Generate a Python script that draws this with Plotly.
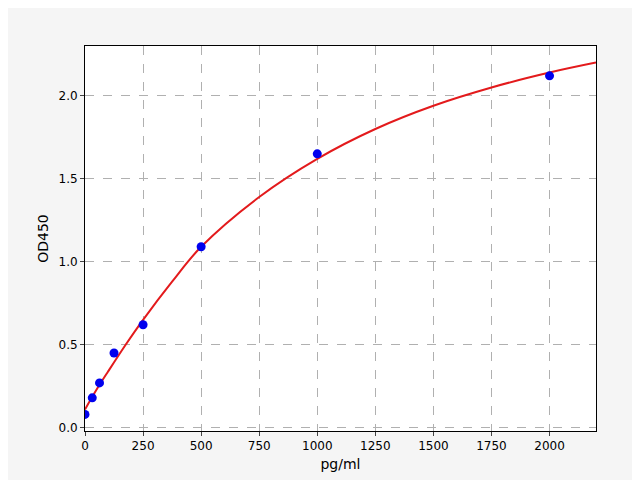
import plotly.graph_objects as go

# standard points
conc = [0, 31.25, 62.5, 125, 250, 500, 1000, 2000]
od = [0.08, 0.18, 0.27, 0.45, 0.62, 1.09, 1.65, 2.12]

# fitted curve
fit_x = [0, 50, 100, 175, 250, 375, 500, 750, 1000, 1250, 1500, 1750, 2000, 2200]
fit_y = [0.11, 0.23, 0.34, 0.50, 0.65, 0.88, 1.09, 1.39, 1.62, 1.80, 1.94, 2.05, 2.14, 2.20]

fig = go.Figure()
fig.add_trace(go.Scatter(x=fit_x, y=fit_y, mode="lines", line=dict(color="#e31a1c", width=2, shape="spline"), hoverinfo="skip"))
fig.add_trace(go.Scatter(x=conc, y=od, mode="markers", marker=dict(color="#0000ee", size=9)))

axis = dict(showline=True, linecolor="black", mirror=True, ticks="outside", ticklen=4,
            showgrid=True, gridcolor="#b0b0b0", griddash="dash", zeroline=False,
            automargin=False, tickfont=dict(size=12, color="black"))
fig.update_layout(
    width=640, height=480, showlegend=False,
    paper_bgcolor="#f5f5f5", plot_bgcolor="white",
    margin=dict(l=77, r=52, t=38, b=57),
    font=dict(family="DejaVu Sans", size=12, color="black"),
    xaxis=dict(axis, range=[0, 2200], tickvals=[0, 250, 500, 750, 1000, 1250, 1500, 1750, 2000],
               title=dict(text="pg/ml", standoff=6)),
    yaxis=dict(axis, range=[-0.02, 2.30], tickvals=[0, 0.5, 1.0, 1.5, 2.0], tickformat=".1f",
               title=dict(text="OD450", standoff=6)),
)
fig.write_html("out.html")
